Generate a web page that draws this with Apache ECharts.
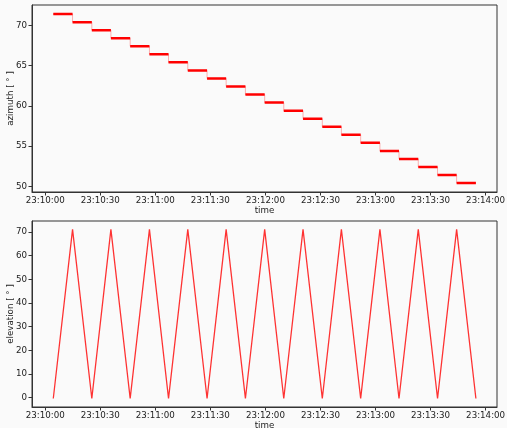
<!DOCTYPE html>
<html><head><meta charset="utf-8">
<script src="https://cdn.jsdelivr.net/npm/echarts@6/dist/echarts.min.js"></script>
<style>html,body{margin:0;padding:0;background:#fafafa}#c{width:507px;height:428px}</style>
</head><body><div id="c"></div>
<script>
// seconds after 23:10:00
const stepTimes = [4.4, 14.9, 25.4, 35.8, 46.3, 56.8, 67.2, 77.7, 88.2, 98.6, 109.1, 119.6, 130.0, 140.5, 151.0, 161.4, 171.9, 182.4, 192.8, 203.3, 213.8, 224.2, 234.7];
const azimuthLevels = [71.4, 70.4, 69.4, 68.4, 67.4, 66.4, 65.4, 64.4, 63.4, 62.4, 61.4, 60.4, 59.4, 58.4, 57.4, 56.4, 55.4, 54.4, 53.4, 52.4, 51.4, 50.4];
const elevationValues = [-0.4, 71.1, -0.4, 71.1, -0.4, 71.1, -0.4, 71.1, -0.4, 71.1, -0.4, 71.1, -0.4, 71.1, -0.4, 71.1, -0.4, 71.1, -0.4, 71.1, -0.4, 71.1, -0.4];
const timeTicks = [0, 30, 60, 90, 120, 150, 180, 210, 240];
const azTicks = [50, 55, 60, 65, 70];
const elTicks = [0, 10, 20, 30, 40, 50, 60, 70];

function fmt(s){
  const tot = 23*3600 + 10*60 + Math.round(s);
  const h = Math.floor(tot/3600), m = Math.floor((tot%3600)/60), ss = tot%60;
  const p = n => (n<10?'0':'')+n;
  return p(h)+':'+p(m)+':'+p(ss);
}

const segData = [];
const stepData = [];
for (let i = 0; i < azimuthLevels.length; i++) {
  segData.push([stepTimes[i], azimuthLevels[i]]);
  segData.push([stepTimes[i+1], azimuthLevels[i]]);
  segData.push([stepTimes[i+1], '-']);
  stepData.push([stepTimes[i], azimuthLevels[i]]);
  stepData.push([stepTimes[i+1], azimuthLevels[i]]);
}
const elData = stepTimes.map((t, i) => [t, elevationValues[i]]);

const font = 'DejaVu Sans';
const txt = '#222';
const fs = 8.7;
function xAxis(gi){
  return {
    type:'value', gridIndex:gi, min:-7.2, max:246.2,
    name:'time', nameLocation:'middle', nameGap:14, nameMoveOverlap:false,
    nameTextStyle:{fontFamily:font, fontSize:fs, color:txt},
    axisLine:{show:true, onZero:false, lineStyle:{color:'#333', width:1}},
    axisTick:{show:true, length:3.5, customValues:timeTicks, lineStyle:{color:'#333'}},
    axisLabel:{customValues:timeTicks, formatter:fmt, fontFamily:font, fontSize:fs, color:txt, margin:4},
    splitLine:{show:false}
  };
}
function yAxis(gi, min, max, ticks, name){
  return {
    type:'value', gridIndex:gi, min:min, max:max,
    name:name, nameLocation:'middle', nameGap:17, nameMoveOverlap:false,
    nameTextStyle:{fontFamily:font, fontSize:fs, color:txt},
    axisLine:{show:true, onZero:false, lineStyle:{color:'#333', width:1}},
    axisTick:{show:true, length:3.5, customValues:ticks, lineStyle:{color:'#333'}},
    axisLabel:{customValues:ticks, fontFamily:font, fontSize:fs, color:txt, margin:5},
    splitLine:{show:false}
  };
}

const chart = echarts.init(document.getElementById('c'), null, {renderer:'canvas'});
chart.setOption({
  backgroundColor:'#fafafa',
  animation:false,
  grid:[
    {left:32, top:5, width:465, height:187, show:true, borderColor:'#333', borderWidth:1, backgroundColor:'#fafafa', containLabel:false, outerBoundsMode:'none'},
    {left:32, top:221, width:465, height:186, show:true, borderColor:'#333', borderWidth:1, backgroundColor:'#fafafa', containLabel:false, outerBoundsMode:'none'}
  ],
  xAxis:[xAxis(0), xAxis(1)],
  yAxis:[yAxis(0, 49.29, 72.53, azTicks, 'azimuth [ ° ]'), yAxis(1, -3.98, 74.66, elTicks, 'elevation [ ° ]')],
  series:[
    {type:'line', xAxisIndex:0, yAxisIndex:0, data:stepData, showSymbol:false,
     lineStyle:{color:'rgba(255,0,0,0.3)', width:1}},
    {type:'line', xAxisIndex:0, yAxisIndex:0, data:segData, showSymbol:false, connectNulls:false,
     lineStyle:{color:'#ff0000', width:2.5}},
    {type:'line', xAxisIndex:1, yAxisIndex:1, data:elData, showSymbol:false,
     lineStyle:{color:'rgba(255,0,0,0.8)', width:1.3}}
  ]
});
</script></body></html>
